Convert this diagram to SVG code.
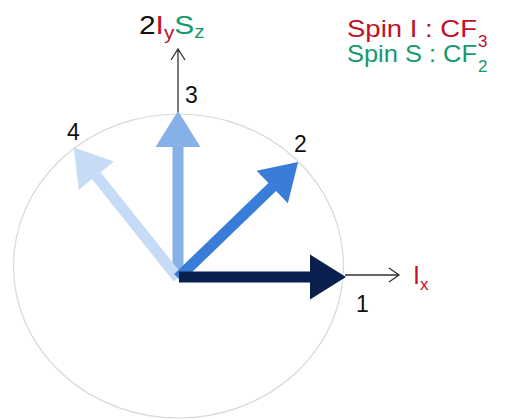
<svg xmlns="http://www.w3.org/2000/svg" width="511" height="419" viewBox="0 0 511 419">
<style>
text{font-family:"Liberation Sans",Arial,sans-serif;}
.num{font-size:23px;fill:#111;}
.red{fill:#c0102a;}
.grn{fill:#159a6a;}
.ax{fill:none;stroke:#333;stroke-width:1.3;}
</style>
<defs>
<polygon id="arr" points="0,-5.5 131,-5.5 131,-22.5 167,0 131,22.5 131,5.5 0,5.5"/>
</defs>
<rect width="511" height="419" fill="#fff"/>
<ellipse cx="178.5" cy="266" rx="165" ry="152" fill="none" stroke="#d8d8d8" stroke-width="1.2"/>
<g id="connectors">
<path class="ax" d="M178,113 V49 M171,60 L178,49 L185,60"/>
<path class="ax" d="M345,275 H399 M389,268 L399,275 L389,282"/>
</g>
<g id="arrow3"><use href="#arr" fill="#86b0e8" transform="translate(178,278) rotate(-90)"/></g>
<g id="arrow4"><use href="#arr" fill="#c6dbf5" transform="translate(178,278) rotate(-128.6)"/></g>
<g id="arrow2"><use href="#arr" fill="#3a7dd8" transform="translate(178,278) rotate(-44)"/></g>
<g id="arrow1"><use href="#arr" fill="#0b1f4e" transform="translate(179,277)"/></g>
<g id="labels">
<text class="num" x="185" y="103">3</text>
<text class="num" x="67" y="140">4</text>
<text class="num" x="294" y="152">2</text>
<text class="num" x="356" y="312">1</text>
<text transform="translate(139,34) scale(1.15,1)" font-size="26"><tspan fill="#111">2</tspan><tspan class="red">I</tspan><tspan class="red" font-size="18" dy="5">y</tspan><tspan class="grn" dy="-5">S</tspan><tspan class="grn" font-size="18" dy="4">z</tspan></text>
<text x="413" y="284" font-size="25"><tspan class="red">I</tspan><tspan class="red" font-size="17" dy="6">x</tspan></text>
</g>
<g id="legend">
<text x="347" y="37" font-size="24" class="red" textLength="130" lengthAdjust="spacingAndGlyphs">Spin I : CF</text><text x="478" y="47" font-size="17" class="red">3</text>
<text x="347" y="62" font-size="24" class="grn" textLength="130" lengthAdjust="spacingAndGlyphs">Spin S : CF</text><text x="478" y="72" font-size="17" class="grn">2</text>
</g>
</svg>
